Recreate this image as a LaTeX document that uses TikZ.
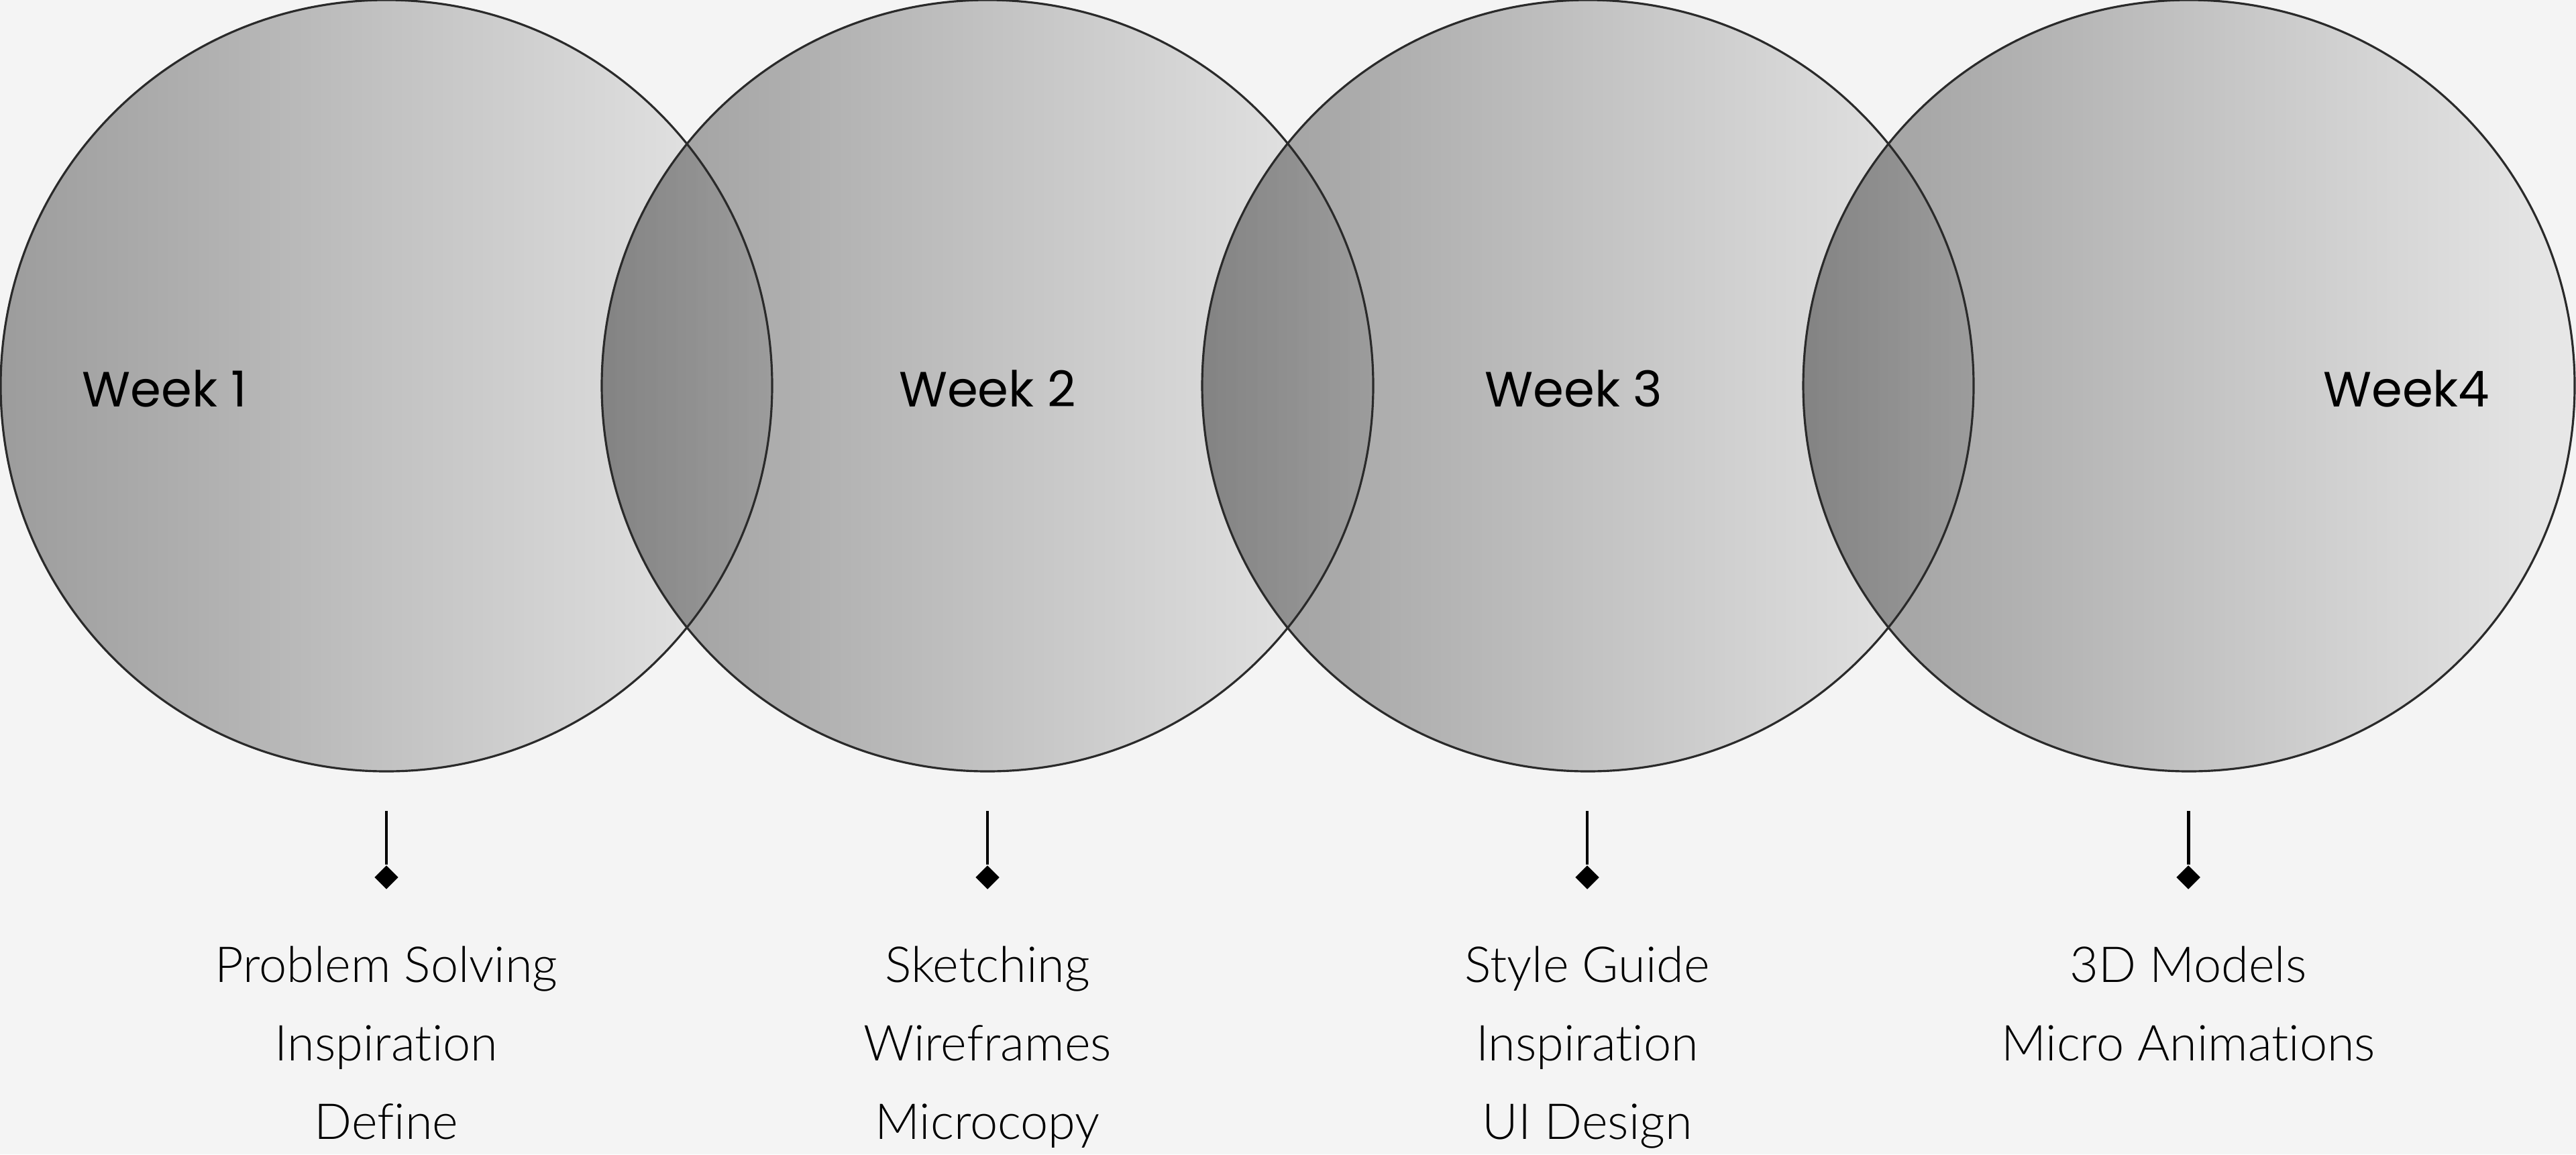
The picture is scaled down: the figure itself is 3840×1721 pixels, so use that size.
\documentclass[tikz,border=0pt]{standalone}
\usepackage{fontspec}
\usetikzlibrary{shapes.geometric}
\newfontfamily\weekfont{Poppins}
\newfontfamily\listfont{Lato Light}[Ligatures={NoCommon}]
\definecolor{bgc}{HTML}{F4F4F4}
\definecolor{cdark}{HTML}{9C9C9C}
\definecolor{clight}{HTML}{E8E8E8}
\definecolor{rimc}{HTML}{2A2A2A}
\tikzset{
  disc/.style={left color=cdark, right color=clight},
  rim/.style={draw=rimc, line width=0.9pt},
  weeklabel/.style={font=\weekfont\fontsize{21}{25}\selectfont, text=black, inner sep=0pt},
  listlabel/.style={font=\listfont\fontsize{21}{33.3}\selectfont, text=black, align=center, inner sep=0pt, anchor=north},
  stem/.style={line width=1.4pt, draw=black},
  tipmark/.style={diamond, fill=black, inner sep=0pt, minimum size=0.36cm},
}
\begin{document}
\begin{tikzpicture}[x=0.01cm, y=-0.01cm]
\useasboundingbox (0,0) rectangle (3840,1721);
\fill[bgc] (0,0) rectangle (3840,1721);
\begin{scope}[blend group=multiply]
  \foreach \cx in {576,1472,2367,3263} {
    \shade[disc] (\cx,575) circle[radius=575];
  }
\end{scope}
\foreach \cx in {576,1472,2367,3263} {
  \draw[rim] (\cx,575) circle[radius=575];
}
% week labels
\node[weeklabel, anchor=base west] (w1) at (122,606) {Week 1};
\node[weeklabel, anchor=base] (w2) at (1472,606) {Week 2};
\node[weeklabel, anchor=base] (w3) at (2346,606) {Week 3};
\node[weeklabel, anchor=base east] (w4) at (3712,606) {Week4};
% connectors
\foreach \i/\cx in {1/576,2/1472,3/2366,4/3262} {
  \coordinate (s\i) at (\cx,1209);
  \node[tipmark] (d\i) at (\cx,1308) {};
  \draw[stem] (s\i) -- (d\i.north);
}
% lists
\node[listlabel] (l1) at (576,1410) {Problem Solving\\Inspiration\\Define};
\node[listlabel] (l2) at (1472,1410) {Sketching\\Wireframes\\Microcopy};
\node[listlabel] (l3) at (2366,1410) {Style Guide\\Inspiration\\UI Design};
\node[listlabel] (l4) at (3262,1410) {3D Models\\Micro Animations};
\end{tikzpicture}
\end{document}
